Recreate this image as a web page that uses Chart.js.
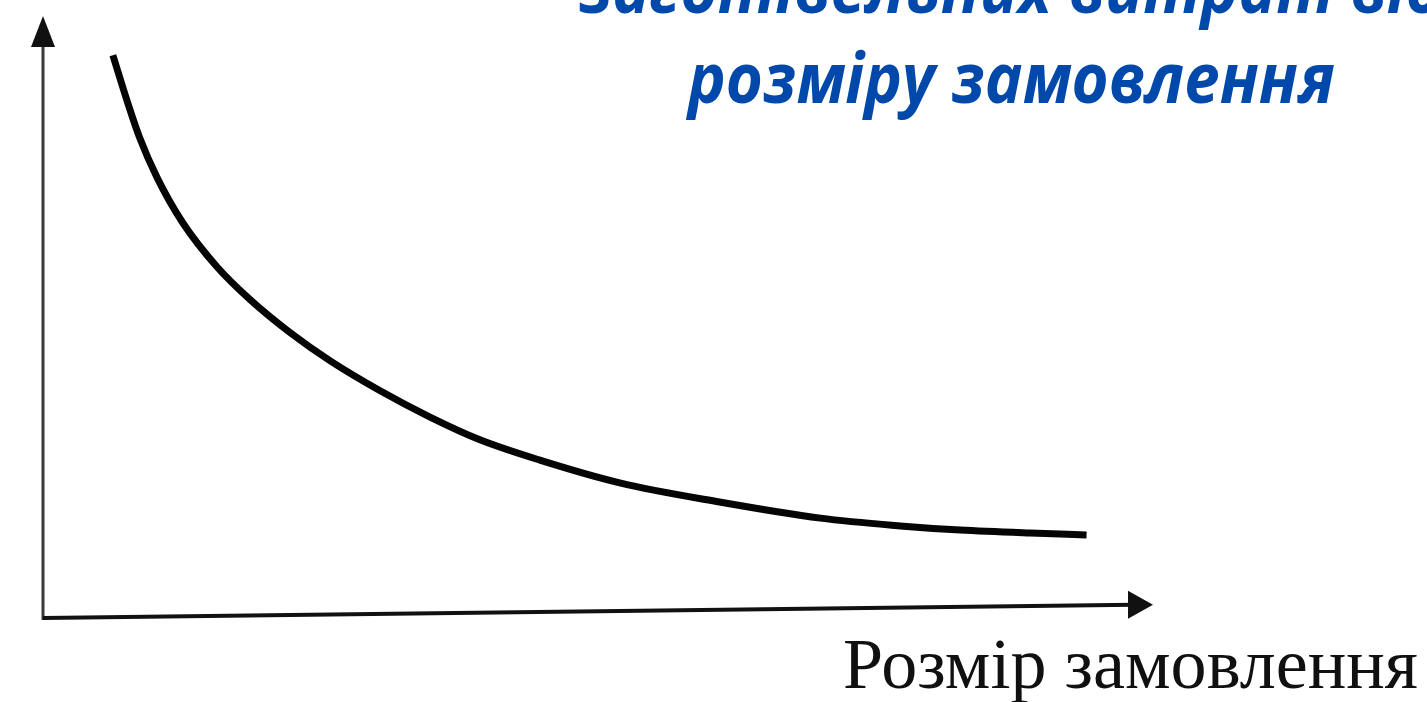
<!DOCTYPE html>
<html>
<head>
<meta charset="utf-8">
<script src="https://cdn.jsdelivr.net/npm/chart.js@4"></script>
<style>
    html, body { margin: 0; padding: 0; background: #fff; overflow: hidden; }
    #wrap { position: relative; width: 1427px; height: 702px; }
    #costChart { position: absolute; left: 0; top: 0; }
    .title-line {
        position: absolute;
        white-space: nowrap;
        font-family: 'Open Sans', sans-serif;
        font-weight: 700;
        font-style: italic;
        font-size: 70px;
        line-height: 1;
        color: #0049ab;
        transform-origin: 0 0;
    }
    #xLabel {
        position: absolute;
        white-space: nowrap;
        font-family: 'Liberation Serif', 'Times New Roman', serif;
        font-size: 72px;
        line-height: 1;
        color: #101010;
        transform-origin: 0 0;
    }
</style>
</head>
<body>
<div id="wrap">
    <canvas id="costChart" width="1427" height="702"></canvas>
    <div class="title-line" id="title1">заготівельних витрат від</div>
    <div class="title-line" id="title2">розміру замовлення</div>
    <div id="xLabel">Розмір замовлення</div>
</div>
<script>
// Order size (x) and procurement cost (y)
const orderSize = [6.3, 7.7, 8.7, 10.3, 12.6, 15.7, 18.7, 22.3, 25.9, 30.4, 34.9, 39.4, 44.8, 52.0, 61.0, 70.1, 77.3, 82.7, 89.0, 94.1];
const procurementCost = [94.1, 85.8, 80.4, 73.6, 66.1, 58.7, 53.2, 47.7, 43.0, 38.0, 33.6, 29.8, 26.4, 22.6, 19.4, 16.7, 15.4, 14.7, 14.2, 13.9];
const titleLines = ['заготівельних витрат від', 'розміру замовлення'];
const axisLabel = 'Розмір замовлення';

// Draw both axes with arrow heads from the chart scales
const arrowAxes = {
    id: 'arrowAxes',
    afterDatasetsDraw(chart) {
        const ctx = chart.ctx;
        const xs = chart.scales.x;
        const ys = chart.scales.y;
        const x0 = xs.getPixelForValue(0);
        const y0 = ys.getPixelForValue(0);
        const xEnd = xs.getPixelForValue(xs.max);
        const yEndRight = ys.getPixelForValue(2.2);
        const yTop = ys.getPixelForValue(ys.max);

        ctx.save();
        // y axis
        ctx.strokeStyle = '#3a3a3a';
        ctx.lineWidth = 3;
        ctx.beginPath();
        ctx.moveTo(x0, y0 + 2);
        ctx.lineTo(x0, yTop + 20);
        ctx.stroke();
        ctx.fillStyle = '#111';
        ctx.beginPath();
        ctx.moveTo(x0, yTop - 4);
        ctx.lineTo(x0 - 12, yTop + 27);
        ctx.lineTo(x0 + 12, yTop + 27);
        ctx.closePath();
        ctx.fill();

        // x axis
        ctx.strokeStyle = '#111';
        ctx.lineWidth = 4;
        ctx.beginPath();
        ctx.moveTo(x0, y0);
        ctx.lineTo(xEnd - 18, yEndRight);
        ctx.stroke();
        ctx.beginPath();
        ctx.moveTo(xEnd + 1, yEndRight);
        ctx.lineTo(xEnd - 24, yEndRight - 14);
        ctx.lineTo(xEnd - 24, yEndRight + 14);
        ctx.closePath();
        ctx.fill();
        ctx.restore();
    }
};

const points = orderSize.map((x, i) => ({ x: x, y: procurementCost[i] }));

const costCtx = document.getElementById('costChart').getContext('2d');
const costChart = new Chart(costCtx, {
    type: 'line',
    data: {
        datasets: [{
            data: points,
            borderColor: '#050505',
            borderWidth: 7,
            pointRadius: 0,
            fill: false,
            cubicInterpolationMode: 'monotone',
            borderCapStyle: 'butt',
            borderJoinStyle: 'round'
        }]
    },
    options: {
        responsive: false,
        animation: false,
        layout: { padding: { left: 43, right: 275, top: 20, bottom: 84 } },
        plugins: { legend: { display: false }, tooltip: { enabled: false }, title: { display: false } },
        scales: {
            x: { type: 'linear', min: 0, max: 100, display: false },
            y: { min: 0, max: 100, display: false }
        }
    },
    plugins: [arrowAxes]
});

// Fit the HTML texts to the widths seen in the picture
function measure(el) {
    const c = document.createElement('canvas').getContext('2d');
    const st = getComputedStyle(el);
    c.font = st.fontStyle + ' ' + st.fontWeight + ' ' + st.fontSize + ' ' + st.fontFamily;
    return c.measureText(el.textContent).width;
}

function placeText() {
    const t1 = document.getElementById('title1');
    const t2 = document.getElementById('title2');
    const lbl = document.getElementById('xLabel');
    t1.textContent = titleLines[0];
    t2.textContent = titleLines[1];
    lbl.textContent = axisLabel;

    const scale = 647 / measure(t2);
    const titleCenter = 1011;
    const w2 = measure(t2) * scale;
    const w1 = measure(t1) * scale;
    t2.style.left = (titleCenter - w2 / 2) + 'px';
    t2.style.top = '41px';
    t2.style.transform = 'scaleX(' + scale + ')';
    t1.style.left = (titleCenter - w1 / 2) + 'px';
    t1.style.top = '-49px';
    t1.style.transform = 'scaleX(' + scale + ')';

    const lblScale = 575 / measure(lbl);
    lbl.style.left = '843px';
    lbl.style.top = '628px';
    lbl.style.transform = 'scaleX(' + lblScale + ')';
}

document.fonts.ready.then(placeText);
placeText();
</script>
</body>
</html>
